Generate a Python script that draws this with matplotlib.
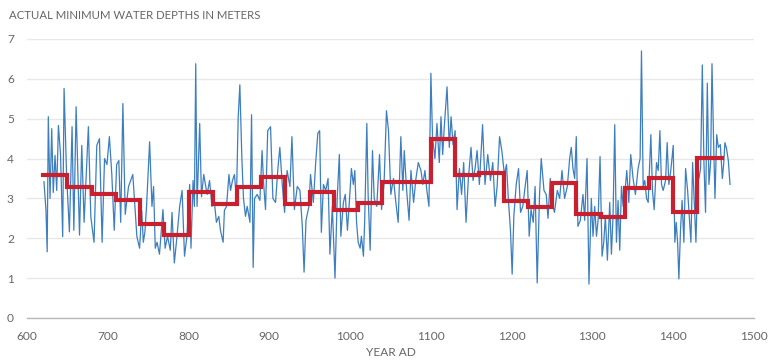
import matplotlib
matplotlib.use("Agg")
import matplotlib.pyplot as plt
import numpy as np

# Annual minimum water depth
years = [621, 623.5, 625, 626.4, 628.5, 630.6, 632.5, 634.7, 636.8, 638.9, 641.5, 644.2, 645.9, 649, 652.5, 655.8,
         658, 660.8, 665, 667.8, 670.7, 676, 679, 683, 686.4, 689.7, 693, 696, 699, 702, 705, 708, 711, 713.7,
         716, 718.7, 721.6, 725.7, 731, 736, 739.4,
         742, 744, 746, 748, 751.8, 754.7, 756.7, 758.8, 761, 764, 768.3, 771, 774, 777.4, 779.5, 782.4, 785.7,
         789, 792, 795, 798, 801.4, 803, 805.6, 807.2, 808.9, 810.5, 813.8, 816, 818.8, 823, 826, 829, 832,
         834.5, 837.4, 839.5, 842.8, 844.4, 847, 850, 852, 854.4, 856.8, 859.3, 861.4, 863.5,
         866, 868, 870.5, 872.6, 876, 878, 880, 881.7, 885, 888.3, 891, 893, 895.3, 898, 901.5, 904.4, 907.7,
         910.6, 913, 916, 918.9, 922, 925.5, 928, 931, 934.6, 937.9, 940.8, 943, 945.4, 949, 951, 954.5, 957.4,
         960, 962.3, 964.4, 967, 969.8, 972.7, 975, 978, 981.3, 984, 986.7,
         988.5, 991.7, 994, 996.7, 998.7, 1001.6, 1004, 1005.8, 1008, 1010, 1012.4, 1014, 1016.5, 1018, 1020.7,
         1022.3, 1024.8, 1027.7, 1029.8, 1033, 1036.4, 1038.9, 1042, 1045, 1047.5, 1050.4, 1053.7, 1056.6,
         1059.5, 1062.8, 1065.3, 1067, 1070, 1073, 1075.3, 1078.6, 1081.5, 1084.4, 1087.7, 1090, 1092.6, 1095,
         1097.6, 1100, 1102, 1105, 1107.5, 1110.4,
         1112.5, 1114.6, 1116.6, 1120, 1122.8, 1125, 1127.4, 1130, 1132.4, 1135.3, 1138, 1140.6, 1143.5, 1146.4,
         1149.7, 1152.2, 1154.7, 1157.2, 1160, 1164, 1167, 1170.4, 1173.7, 1176.6, 1179.5, 1182, 1185, 1187.8,
         1191, 1193.6, 1196, 1198.5, 1200.6, 1202.7, 1205.6, 1208.5, 1211, 1213.8, 1216.7, 1219.2, 1221.7, 1224,
         1226.7, 1229, 1231.6, 1234.5,
         1236.6, 1240, 1242.8, 1245, 1247.8, 1250, 1253, 1256.5, 1259.4, 1262.3, 1265.5, 1268.9, 1271.8, 1273.8,
         1275.9, 1278, 1280, 1282, 1285, 1288.3, 1290.4, 1293.3, 1295.7, 1298.6, 1300.7, 1302.8, 1305, 1307,
         1309.4, 1311.9, 1314, 1316, 1318.5, 1321.4, 1323.5, 1325.5, 1327.6, 1329.7, 1331.7, 1333.8, 1335.9,
         1338, 1340, 1342.5, 1345, 1347.4, 1350.3, 1353.2, 1356.5, 1359, 1360.7,
         1362.8, 1364.8, 1367, 1369, 1372.3, 1374.3, 1376.4, 1379.3, 1381.4, 1383.5, 1385.5, 1387.6, 1390.5,
         1392.5, 1394.6, 1397, 1400, 1402, 1403.7, 1405.4, 1407, 1409, 1411, 1413.2, 1415.3, 1417.8, 1419.8,
         1421.9, 1424, 1426, 1428.1, 1430.2, 1431.8, 1433.9, 1436, 1438, 1440, 1442.2, 1444.2, 1446.3, 1448,
         1450, 1451.7, 1453.8, 1455.8, 1458.3, 1460.8, 1462.4, 1464, 1466, 1468.2, 1470.3]

depth = [3.42, 2.7, 1.66, 5.05, 3.0, 4.75, 3.15, 4.08, 3.2, 4.83, 4.1, 2.04, 5.76, 3.6, 2.16, 4.8,
         2.2, 5.3, 2.08, 4.33, 2.4, 4.8, 2.54, 1.9, 4.33, 4.5, 1.9, 4.0, 3.85, 4.55, 3.6, 2.2, 3.85, 3.95,
         2.4, 5.38, 2.6, 3.3, 3.6, 2.05, 1.75,
         2.7, 1.9, 2.16, 2.8, 4.42, 2.8, 3.3, 1.75, 1.9, 1.6, 2.72, 1.75, 2.05, 1.7, 2.65, 1.38, 2.05,
         2.8, 3.2, 1.55, 2.05, 3.35, 1.75, 3.45, 2.8, 6.38, 2.8, 4.88, 3.04, 3.6, 3.1, 3.45, 2.8, 2.9,
         2.4, 2.55, 2.2, 1.9, 2.7, 2.8, 3.6, 3.2, 3.45, 3.6, 3.0, 5.0, 5.85,
         4.0, 3.0, 2.55, 2.8, 2.4, 5.1, 1.27, 3.0, 3.1, 2.95, 4.2, 3.35, 2.72, 4.7, 4.8, 3.0, 2.9,
         3.75, 4.28, 3.35, 2.65, 3.7, 3.3, 4.55, 2.72, 3.3, 3.2, 2.3, 1.15, 2.45, 2.8, 3.6, 2.9, 3.9,
         4.63, 4.7, 2.15, 3.35, 3.2, 3.5, 1.6, 2.8, 1.0, 3.0, 4.1,
         2.05, 2.9, 3.1, 2.2, 2.8, 3.75, 3.35, 3.7, 2.4, 1.9, 1.75, 2.05, 1.55, 2.4, 4.88,
         3.1, 1.7, 4.2, 3.0, 2.8, 4.1, 2.72, 3.35, 5.2, 4.7, 3.1, 3.5, 2.9,
         2.4, 4.55, 3.2, 4.2, 3.2, 2.45, 3.7, 2.9, 3.5, 3.9, 3.7, 3.35, 3.7, 3.2,
         2.8, 6.14, 4.55, 4.0, 4.88, 3.9,
         5.05, 4.1, 4.8, 5.8, 4.28, 5.05, 4.35, 4.7, 2.72, 3.75, 3.1, 3.9, 2.4, 3.5,
         4.28, 3.45, 3.75, 4.2, 3.35, 4.85, 3.35, 4.1, 3.45, 3.9, 2.8, 3.3, 4.55, 4.2,
         3.6, 3.85, 2.95, 2.2, 1.1, 2.55, 3.35, 3.75, 2.65, 2.8, 3.3, 3.7, 2.05, 2.72,
         2.4, 3.3, 0.88, 3.1,
         4.0, 3.2, 3.1, 2.5, 3.5, 2.9, 2.65, 3.2, 3.0, 3.7, 3.0, 3.3, 4.0, 4.28,
         3.75, 3.5, 4.55, 2.3, 2.45, 3.1, 2.45, 4.0, 0.85, 3.0, 2.05, 2.8, 2.05, 2.45,
         4.05, 1.55, 1.9, 2.55, 1.45, 2.9, 1.6, 2.55, 4.85, 1.9, 2.95, 1.7, 3.3,
         2.8, 3.1, 3.7, 2.9, 4.1, 3.5, 3.1, 3.75, 4.0, 6.7,
         3.3, 3.45, 3.0, 2.9, 4.6, 3.2, 2.72, 3.9, 3.7, 4.7, 3.35, 3.2, 3.45,
         4.4, 3.35, 3.7, 4.33, 1.9, 2.4, 1.9, 0.98, 2.2, 2.95, 1.9, 3.75, 3.2, 2.55,
         1.9, 3.9, 2.9, 1.9, 3.45, 3.5, 3.75, 6.35, 3.9, 2.65, 5.89, 3.35, 3.9, 6.38,
         4.4, 3.0, 4.6, 4.28, 4.35, 3.5, 3.85, 4.4, 4.25, 3.95, 3.35]

# 30-year averages
period_start = [620, 650, 680, 710, 740, 770, 800, 830, 860, 890, 920, 950, 980, 1010,
                1040, 1070, 1100, 1130, 1160, 1190, 1220, 1250, 1280, 1310, 1340, 1370, 1400, 1430, 1460]
period_mean = [3.58, 3.28, 3.10, 2.96, 2.37, 2.08, 3.15, 2.86, 3.29, 3.53, 2.87, 3.17, 2.72, 2.89,
               3.42, 3.40, 4.48, 3.58, 3.64, 2.94, 2.79, 3.39, 2.61, 2.54, 3.25, 3.52, 2.66, 4.02, 4.02]

x_ticks = [600, 700, 800, 900, 1000, 1100, 1200, 1300, 1400, 1500]
y_ticks = [0, 1, 2, 3, 4, 5, 6, 7]

plt.rcParams['font.family'] = ['Lato', 'DejaVu Sans']

fig = plt.figure(figsize=(7.69, 3.63), dpi=100)
ax = fig.add_axes([0.0351, 0.124, 0.9454, 0.7686])

ax.plot(years, depth, color='#3d7ebf', lw=0.9, zorder=2)
ax.step(period_start, period_mean, where='post', color='#c8202f', lw=3.0,
        solid_joinstyle='miter', zorder=3)

ax.set_xlim(600, 1500)
ax.set_ylim(0, 7)
ax.set_xticks(x_ticks)
ax.set_yticks(y_ticks)
ax.tick_params(axis='both', length=0, labelsize=8.6, colors='#666666')
ax.tick_params(axis='x', pad=9.5)
ax.tick_params(axis='y', pad=9.5)
ax.yaxis.grid(True, color='#e8e8e8', lw=1)
ax.set_axisbelow(True)
for s in ['top', 'right', 'left']:
    ax.spines[s].set_visible(False)
ax.spines['bottom'].set_color('#b8b8b8')
ax.spines['bottom'].set_linewidth(1)

ax.set_xlabel('YEAR AD', fontsize=8.6, color='#666666', labelpad=3.5)
fig.text(0.0117, 0.958, 'ACTUAL MINIMUM WATER DEPTHS IN METERS', fontsize=8.2,
         color='#666666', ha='left', va='center')

fig.savefig('out.png', dpi=100, facecolor='white')
